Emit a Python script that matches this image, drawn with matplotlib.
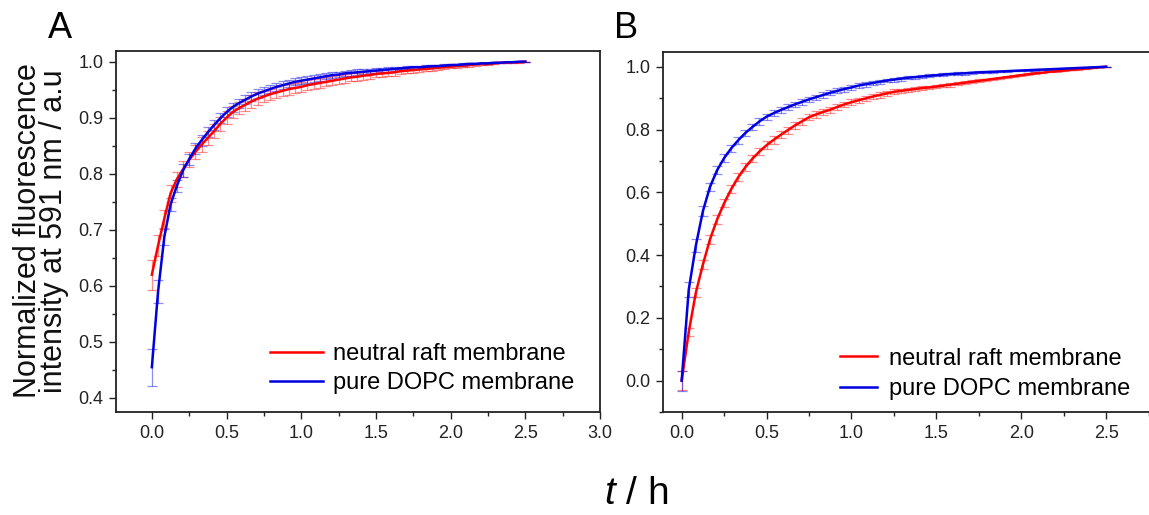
import numpy as np
import matplotlib
matplotlib.use("Agg")
import matplotlib.pyplot as plt
from matplotlib.ticker import MultipleLocator

plt.rcParams['font.family'] = ['Liberation Sans', 'DejaVu Sans']
plt.rcParams['mathtext.fontset'] = 'custom'
plt.rcParams['mathtext.it'] = 'Liberation Sans:italic'
plt.rcParams['mathtext.rm'] = 'Liberation Sans'

# sampling every 2.5 min over 150 min, expressed in hours
time_min = np.arange(0, 150.1, 2.5)
t_h = time_min / 60.0

# Panel A: normalized fluorescence (mean and s.d.)
a_raft = [0.620, 0.672, 0.720, 0.765, 0.790, 0.808, 0.825, 0.839, 0.852, 0.864,
          0.876, 0.889, 0.900, 0.910, 0.917, 0.923, 0.929, 0.934, 0.938, 0.942,
          0.945, 0.948, 0.951, 0.953, 0.955, 0.958, 0.960, 0.962, 0.964, 0.966,
          0.968, 0.970, 0.972, 0.973, 0.975, 0.976, 0.978, 0.979, 0.980, 0.981,
          0.983, 0.984, 0.985, 0.986, 0.987, 0.988, 0.989, 0.990, 0.991, 0.992,
          0.993, 0.994, 0.995, 0.996, 0.996, 0.997, 0.998, 0.998, 0.999, 0.999,
          1.000]
a_raft_err = [0.027, 0.018, 0.016, 0.015, 0.014, 0.014, 0.013, 0.013, 0.013, 0.012,
              0.012, 0.012, 0.012, 0.011, 0.011, 0.011, 0.011, 0.011, 0.010, 0.010,
              0.010, 0.010, 0.010, 0.009, 0.009, 0.009, 0.009, 0.009, 0.008, 0.008,
              0.008, 0.008, 0.007, 0.007, 0.007, 0.007, 0.006, 0.006, 0.006, 0.006,
              0.005, 0.005, 0.005, 0.005, 0.004, 0.004, 0.004, 0.004, 0.003, 0.003,
              0.003, 0.003, 0.002, 0.002, 0.002, 0.002, 0.001, 0.001, 0.001, 0.001,
              0.000]
a_dopc = [0.455, 0.590, 0.687, 0.745, 0.778, 0.806, 0.826, 0.845, 0.860, 0.874,
          0.887, 0.899, 0.910, 0.919, 0.926, 0.932, 0.938, 0.943, 0.947, 0.951,
          0.955, 0.958, 0.961, 0.964, 0.966, 0.968, 0.970, 0.972, 0.974, 0.976,
          0.977, 0.979, 0.980, 0.981, 0.982, 0.983, 0.984, 0.985, 0.986, 0.987,
          0.988, 0.989, 0.990, 0.990, 0.991, 0.992, 0.992, 0.993, 0.994, 0.994,
          0.995, 0.996, 0.996, 0.997, 0.997, 0.998, 0.998, 0.999, 0.999, 1.000,
          1.000]
a_dopc_err = [0.033, 0.020, 0.014, 0.012, 0.011, 0.011, 0.010, 0.010, 0.010, 0.009,
              0.009, 0.009, 0.009, 0.008, 0.008, 0.008, 0.008, 0.008, 0.007, 0.007,
              0.007, 0.007, 0.007, 0.006, 0.006, 0.006, 0.006, 0.006, 0.005, 0.005,
              0.005, 0.005, 0.005, 0.005, 0.004, 0.004, 0.004, 0.004, 0.004, 0.003,
              0.003, 0.003, 0.003, 0.003, 0.003, 0.002, 0.002, 0.002, 0.002, 0.002,
              0.002, 0.001, 0.001, 0.001, 0.001, 0.001, 0.001, 0.001, 0.000, 0.000,
              0.000]

# Panel B: normalized signal rising from zero
b_raft = [0.000, 0.155, 0.280, 0.370, 0.450, 0.513, 0.565, 0.610, 0.648, 0.680,
          0.707, 0.730, 0.750, 0.767, 0.783, 0.798, 0.813, 0.826, 0.839, 0.848,
          0.856, 0.863, 0.872, 0.880, 0.887, 0.893, 0.899, 0.905, 0.910, 0.915,
          0.920, 0.923, 0.926, 0.929, 0.932, 0.934, 0.937, 0.940, 0.943, 0.946,
          0.949, 0.952, 0.955, 0.958, 0.961, 0.964, 0.967, 0.970, 0.973, 0.976,
          0.979, 0.981, 0.984, 0.986, 0.988, 0.990, 0.992, 0.994, 0.996, 0.998,
          1.000]
b_raft_err = [0.030, 0.012, 0.014, 0.014, 0.014, 0.014, 0.013, 0.013, 0.013, 0.013,
              0.012, 0.012, 0.012, 0.012, 0.011, 0.011, 0.011, 0.011, 0.010, 0.010,
              0.010, 0.010, 0.010, 0.009, 0.009, 0.009, 0.009, 0.008, 0.008, 0.008,
              0.008, 0.007, 0.007, 0.007, 0.007, 0.006, 0.006, 0.006, 0.006, 0.005,
              0.005, 0.005, 0.005, 0.004, 0.004, 0.004, 0.004, 0.003, 0.003, 0.003,
              0.003, 0.002, 0.002, 0.002, 0.002, 0.001, 0.001, 0.001, 0.001, 0.000,
              0.000]
b_dopc = [0.000, 0.290, 0.430, 0.540, 0.617, 0.670, 0.709, 0.740, 0.766, 0.789,
          0.808, 0.826, 0.841, 0.852, 0.862, 0.871, 0.880, 0.888, 0.896, 0.903,
          0.910, 0.917, 0.923, 0.929, 0.934, 0.940, 0.944, 0.948, 0.952, 0.956,
          0.959, 0.962, 0.965, 0.967, 0.969, 0.971, 0.973, 0.975, 0.977, 0.978,
          0.979, 0.981, 0.982, 0.983, 0.984, 0.985, 0.986, 0.987, 0.988, 0.989,
          0.990, 0.991, 0.992, 0.993, 0.994, 0.995, 0.996, 0.997, 0.998, 0.999,
          1.000]
b_dopc_err = [0.032, 0.024, 0.020, 0.016, 0.014, 0.013, 0.012, 0.012, 0.011, 0.011,
              0.011, 0.010, 0.010, 0.010, 0.010, 0.009, 0.009, 0.009, 0.009, 0.008,
              0.008, 0.008, 0.008, 0.008, 0.007, 0.007, 0.007, 0.007, 0.006, 0.006,
              0.006, 0.006, 0.005, 0.005, 0.005, 0.005, 0.004, 0.004, 0.004, 0.004,
              0.004, 0.003, 0.003, 0.003, 0.003, 0.003, 0.002, 0.002, 0.002, 0.002,
              0.002, 0.001, 0.001, 0.001, 0.001, 0.001, 0.001, 0.000, 0.000, 0.000,
              0.000]

series_labels = ["neutral raft membrane", "pure DOPC membrane"]
RED = "#ff0000"
BLUE = "#0000e0"

W, H = 1149, 515
fig = plt.figure(figsize=(W / 100, H / 100), dpi=100)


def box(l, t, r, b):
    return [l / W, 1 - b / H, (r - l) / W, (b - t) / H]


axA = fig.add_axes(box(116, 51, 600, 412))
axB = fig.add_axes(box(663, 52, 1191, 412))


def draw(ax, y1, e1, y2, e2):
    for y, e, c in ((y1, e1, RED), (y2, e2, BLUE)):
        ax.errorbar(t_h, y, yerr=e, fmt="none", ecolor=c, alpha=0.45,
                    elinewidth=0.9, capsize=3.5, capthick=0.9, zorder=2)
    l1, = ax.plot(t_h, y1, color=RED, lw=1.8, zorder=3)
    l2, = ax.plot(t_h, y2, color=BLUE, lw=1.8, zorder=4)
    for sp in ax.spines.values():
        sp.set_linewidth(1.3)
        sp.set_color("#222222")
    ax.tick_params(which="both", direction="out", top=False, right=False,
                   labelsize=13, colors="#222222", width=1.0)
    ax.tick_params(which="major", length=5, pad=4)
    ax.tick_params(which="minor", length=3)
    ax.xaxis.set_major_locator(MultipleLocator(0.5))
    ax.xaxis.set_minor_locator(MultipleLocator(0.25))
    return l1, l2


def legend_at(ax, handles, x_px, y_px, hlen, pad, spacing, size):
    ax.legend(handles, series_labels, loc="center left", frameon=False,
              fontsize=size, handlelength=hlen, handletextpad=pad,
              labelspacing=spacing, borderpad=0, borderaxespad=0,
              bbox_to_anchor=(x_px / W, 1 - y_px / H),
              bbox_transform=fig.transFigure)


h1, h2 = draw(axA, a_raft, a_raft_err, a_dopc, a_dopc_err)
axA.set_xlim(-0.24, 3.0)
axA.set_ylim(0.375, 1.019)
axA.yaxis.set_major_locator(MultipleLocator(0.1))
axA.yaxis.set_minor_locator(MultipleLocator(0.05))
legend_at(axA, [h1, h2], 270, 368.5, 2.25, 0.4, 0.28, 17)

g1, g2 = draw(axB, b_raft, b_raft_err, b_dopc, b_dopc_err)
axB.set_xlim(-0.11, 3.0)
axB.set_ylim(-0.1, 1.047)
axB.yaxis.set_major_locator(MultipleLocator(0.2))
axB.yaxis.set_minor_locator(MultipleLocator(0.1))
axB.set_xticks([0.0, 0.5, 1.0, 1.5, 2.0, 2.5])
legend_at(axB, [g1, g2], 840, 374, 1.57, 0.5, 0.37, 17)

fig.text(41 / W, 1 - 231 / H,
         "Normalized fluorescence\nintensity at 591 nm / a.u",
         rotation=90, ha="center", va="center", fontsize=22,
         linespacing=0.85, color="#111111")
fig.text(60 / W, 1 - 28 / H, "A", ha="center", va="center", fontsize=26)
fig.text(626 / W, 1 - 28 / H, "B", ha="center", va="center", fontsize=26)
fig.text(636 / W, 1 - 494 / H, r"$\mathit{t}$ / h", ha="center", va="center",
         fontsize=28)

fig.savefig("out.png", dpi=100)
